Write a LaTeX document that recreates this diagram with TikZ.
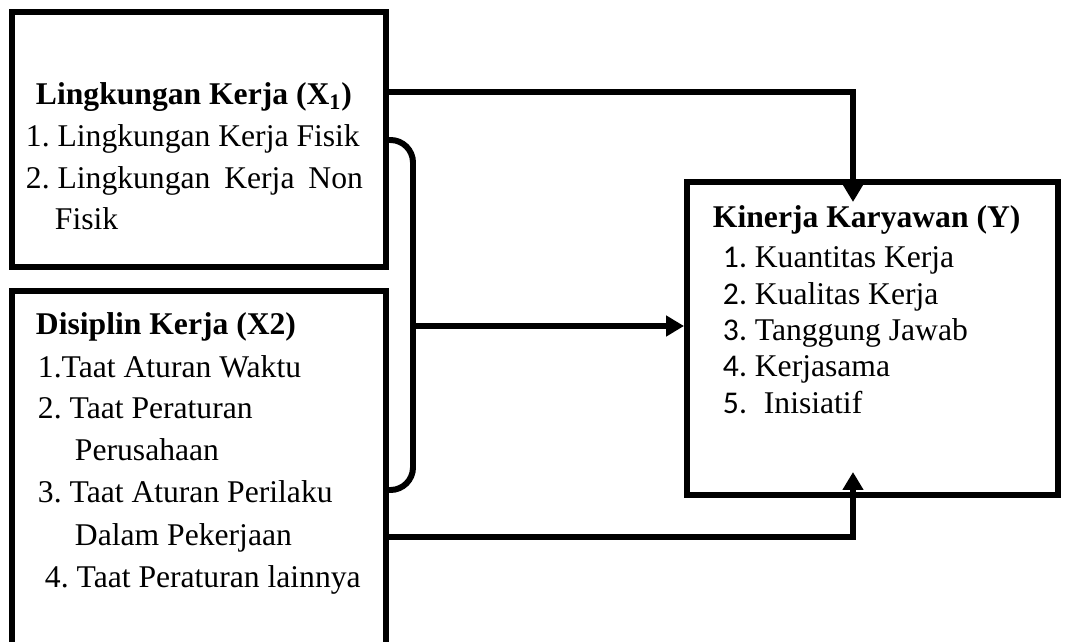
\documentclass[tikz,border=0pt]{standalone}
\usepackage{fontspec}
\setmainfont{Liberation Serif}
\newfontfamily\numfont{Carlito}
\usetikzlibrary{arrows.meta, calc}
\frenchspacing

\begin{document}
\begin{tikzpicture}[x=0.02cm, y=-0.02cm, line width=3.4pt,
    box/.style={draw, rectangle, inner sep=0pt},
    txt/.style={anchor=base west, inner sep=0pt, font=\fontsize{18}{21}\selectfont},
    ttl/.style={txt, font=\fontsize{18}{21}\selectfont\bfseries},
    link/.style={line width=3.4pt},
    tip/.style={link, -{Triangle[length=0.36cm, width=0.4cm]}}]
  \useasboundingbox (0,0) rectangle (1066,642);
  \clip (0,0) rectangle (1066,642);

  % boxes
  \node[box, minimum width=7.48cm, minimum height=5.1cm] (X1) at (199,139.5) {};
  \node[box, minimum width=7.48cm, minimum height=8.2cm] (X2) at (199,496) {};
  \node[box, minimum width=7.42cm, minimum height=6.26cm] (Y) at (872.5,338.5) {};

  % texts
  \node[ttl] (x1t) at (33,105) {Lingkungan Kerja (X\textsubscript{1})};
  \foreach \px/\py/\s [count=\i] in {23/147/{1. Lingkungan Kerja Fisik},
      23/189/{\makebox[6.74cm][s]{2.\hspace{0.25em}Lingkungan\hfill Kerja\hfill Non}},
      52/230/{Fisik}}
    \node[txt] (x1l\i) at (\px,\py) {\s};

  \node[ttl] (x2t) at (33,335) {Disiplin Kerja (X2)};
  \foreach \px/\py/\s [count=\i] in {35/377/{1.Taat Aturan Waktu},
      35/418/{2. Taat Peraturan}, 72/460/{Perusahaan},
      35/502/{3. Taat Aturan Perilaku}, 72/545/{Dalam Pekerjaan},
      42/587/{4. Taat Peraturan lainnya}}
    \node[txt] (x2l\i) at (\px,\py) {\s};

  \node[ttl] (yt) at (710,228) {Kinerja Karyawan (Y)};
  \foreach \n/\s in {1/{Kuantitas Kerja}, 2/{Kualitas Kerja}, 3/{Tanggung Jawab},
      4/{Kerjasama}, 5/{\hspace{0.18cm}Inisiatif}}
    \node[txt] (yl\n) at (720,{268+36.3*(\n-1)}) {{\numfont\n.} \s};

  % connectors
  \coordinate (ytop) at (853,202);
  \coordinate (ybot) at (853,472);
  \coordinate (brk) at (413,326);
  \draw[tip] (X1.east |- 0,92) -| (ytop);
  \draw[link, rounded corners=0.45cm] (X1.east |- 0,140) -| (brk) |- (X2.east |- 0,490);
  \draw[tip] (brk) -- (Y.west |- brk);
  \draw[tip] (X2.east |- 0,537) -| (ybot);
\end{tikzpicture}
\end{document}
